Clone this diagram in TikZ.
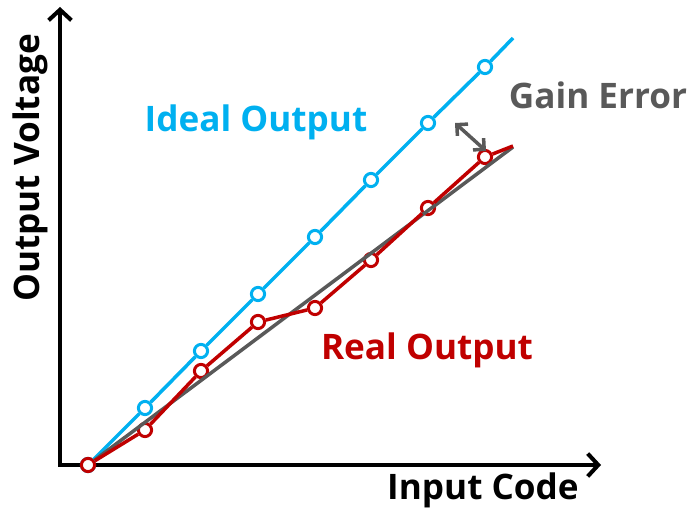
\documentclass[tikz,border=0pt]{standalone}
\usepackage{fontspec}
\setmainfont{Open Sans}
\usetikzlibrary{arrows.meta}

\definecolor{idealblue}{HTML}{00B0F0}
\definecolor{realred}{HTML}{C00000}
\definecolor{errgray}{HTML}{595959}

\tikzset{
  axis/.style={line width=2.3pt, {Straight Barb[length=6pt,width=13pt]}-{Straight Barb[length=6pt,width=13pt]}},
  ideal/.style={draw=idealblue, circle, fill=white, line width=1.7pt, inner sep=0pt, minimum size=7.5pt},
  real/.style={draw=realred, circle, fill=white, line width=1.7pt, inner sep=0pt, minimum size=7.5pt},
  lbl/.style={font=\fontsize{20}{24}\selectfont\bfseries},
}

\begin{document}
\begin{tikzpicture}[x=0.02cm, y=-0.02cm]
  \useasboundingbox (0,0) rectangle (689,513);

  % axes
  \coordinate (ytop) at (60,7);
  \coordinate (xend) at (601,465);
  \draw[axis] (ytop) |- (xend);

  % ideal transfer curve
  \node[ideal](i0) at (88,465) {};
  \node[ideal](i1) at (145,408) {};
  \node[ideal](i2) at (201,351) {};
  \node[ideal](i3) at (258,294) {};
  \node[ideal](i4) at (315,237) {};
  \node[ideal](i5) at (371,180) {};
  \node[ideal](i6) at (428,123) {};
  \node[ideal](i7) at (485,67) {};
  \coordinate (iend) at (513,38);

  % best fit line through the real codes
  \coordinate (gend) at (513,147);

  % real transfer curve
  \node[real](r0) at (88,465) {};
  \node[real](r1) at (145,430) {};
  \node[real](r2) at (201,371) {};
  \node[real](r3) at (258,322) {};
  \node[real](r4) at (315,308) {};
  \node[real](r5) at (371,260) {};
  \node[real](r6) at (428,208) {};
  \node[real](r7) at (485,157) {};
  \coordinate (rend) at (513,146);

  \draw[idealblue, line width=2pt] (r0)--(i1)--(i2)--(i3)--(i4)--(i5)--(i6)--(i7)--(iend);
  \draw[errgray, line width=2pt] (r0)--(gend);
  \draw[realred, line width=2pt] (r0)--(r1)--(r2)--(r3)--(r4)--(r5)--(r6)--(r7)--(rend);

  % gain error marker
  \coordinate (ga) at (455,123);
  \coordinate (gb) at (486,151);
  \draw[errgray, line width=2pt, {Straight Barb[length=4.5pt,width=9pt]}-{Straight Barb[length=4.5pt,width=9pt]}] (ga)--(gb);

  \node[lbl, text=idealblue](idl) at (256,122) {Ideal Output};
  \node[lbl, text=realred](rl) at (427,350) {Real Output};
  \node[lbl, text=errgray](gl) at (598,95) {Gain Error};
  \node[lbl](xl) at (483,490) {Input Code};
  \node[lbl, rotate=90](yl) at (30,168) {Output Voltage};
\end{tikzpicture}
\end{document}
